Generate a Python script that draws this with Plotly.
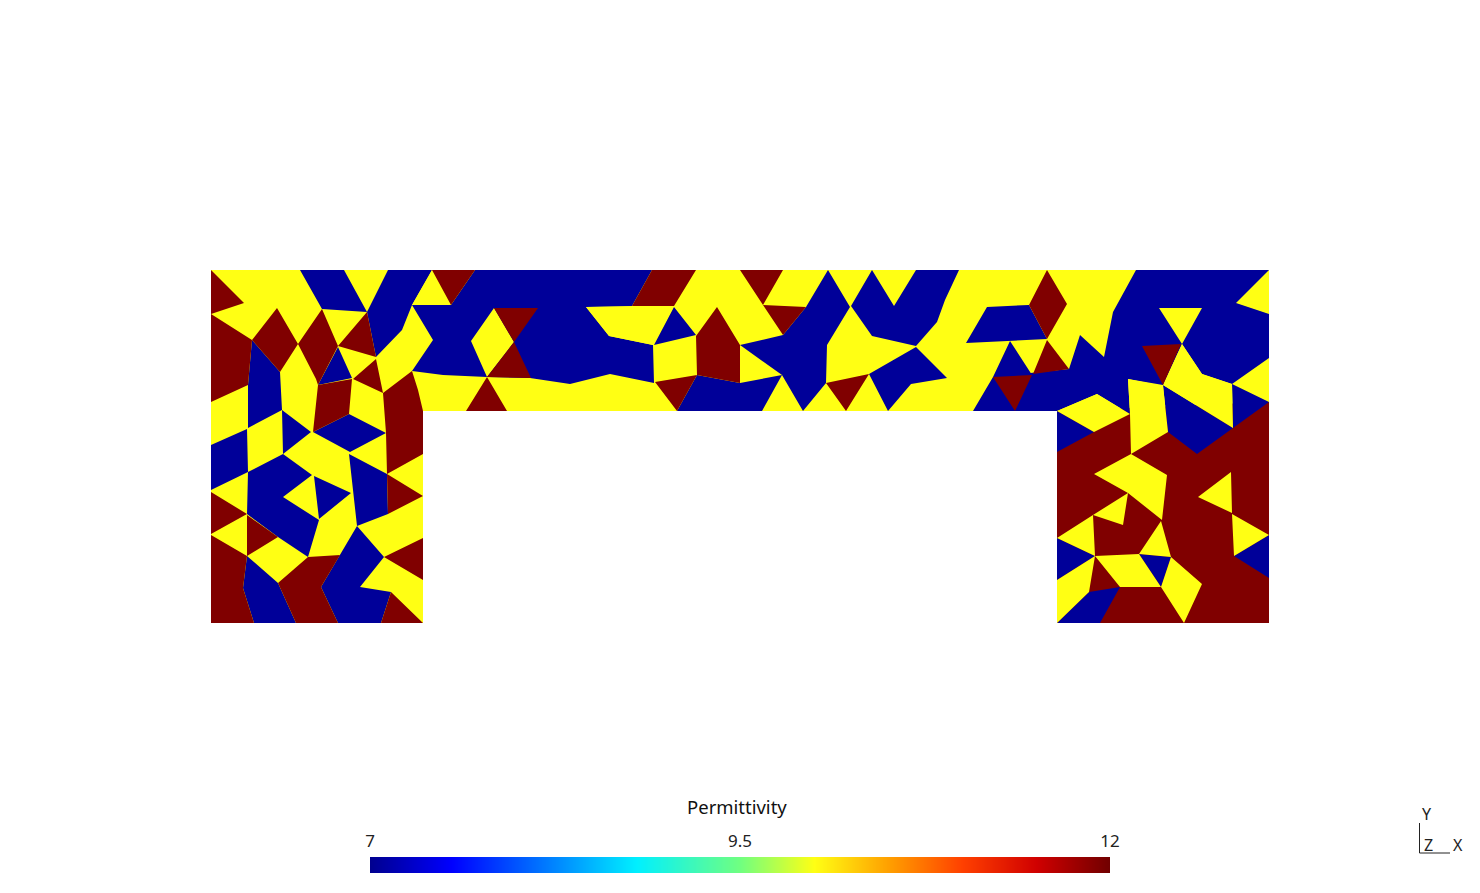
import plotly.graph_objects as go

# mesh cells, vertices are (x, y) in image units, y down
domain_outline = [[(211, 270), (1269, 270), (1269, 623), (1057, 623), (1057, 411),
                   (423, 411), (423, 623), (211, 623)]]

red_leg = [[(1057, 411), (1269, 402), (1269, 623), (1057, 623)]]

blue_cells = [
    [(300, 270), (344, 270), (367, 312), (322, 309)],
    [(388, 270), (432, 270), (412, 305), (402, 330), (376, 357), (367, 312)],
    [(252, 340), (280, 372), (282, 410), (248, 428), (248, 385)],
    [(338, 347), (352, 378), (318, 385)],
    [(313, 432), (349, 414), (386, 433), (350, 452)],
    [(282, 410), (311, 432), (283, 454)],
    [(211, 445), (247, 429), (248, 472), (211, 490)],
    [(247, 556), (278, 583), (296, 623), (254, 623), (243, 588)],
    [(357, 526), (384, 557), (360, 587), (391, 592), (381, 623), (338, 623), (321, 587)],
    [(349, 454), (387, 474), (388, 514), (357, 526)],
    [(248, 472), (283, 454), (312, 475), (283, 497), (319, 520), (308, 557), (278, 537), (247, 514)],
    [(314, 476), (351, 493), (319, 519)],
    [(412, 305), (451, 305), (475, 270), (652, 270), (632, 306), (586, 307), (609, 336), (653, 345),
     (654, 383), (610, 374), (570, 384), (530, 378), (487, 377), (443, 375), (412, 371), (433, 340)],
    [(674, 307), (696, 335), (654, 345)],
    [(697, 375), (740, 383), (782, 375), (762, 411), (677, 411)],
    [(828, 270), (850, 307), (827, 345), (826, 383), (803, 411), (782, 375), (740, 345), (783, 335), (806, 307)],
    [(872, 270), (894, 306), (916, 270), (959, 270), (945, 300), (937, 322), (916, 346), (872, 336), (851, 306)],
    [(916, 347), (947, 378), (911, 384), (888, 411), (869, 374)],
    [(987, 307), (1029, 305), (1047, 339), (966, 343)],
    [(1010, 341), (1032, 375), (993, 377)],
    [(973, 411), (993, 377), (1069, 369), (1080, 335), (1104, 357), (1113, 312), (1136, 270), (1269, 270),
     (1236, 303), (1269, 314), (1269, 358), (1232, 384), (1202, 374), (1182, 344), (1163, 385), (1128, 379),
     (1130, 414), (1097, 394), (1057, 411)],
    [(1057, 411), (1094, 432), (1057, 452)],
    [(1163, 385), (1233, 428), (1197, 454), (1168, 432)],
    [(1232, 384), (1269, 402), (1233, 428)],
    [(1269, 535), (1269, 578), (1234, 556)],
    [(1057, 538), (1095, 556), (1057, 580)],
    [(1089, 592), (1120, 587), (1100, 623), (1057, 623)],
    [(1139, 554), (1171, 557), (1161, 587)],
]

yellow_cells = [
    [(432, 270), (451, 305), (412, 305)],
    [(586, 307), (674, 306), (653, 345), (609, 336)],
    [(494, 308), (514, 342), (487, 377), (471, 341)],
    [(1159, 308), (1202, 308), (1182, 344)],
    [(1182, 344), (1202, 374), (1232, 384), (1233, 428), (1163, 385)],
    [(1057, 411), (1097, 394), (1130, 414), (1094, 432)],
    [(1128, 379), (1163, 386), (1168, 432), (1131, 454), (1130, 414)],
    [(1131, 454), (1167, 475), (1162, 520), (1128, 493), (1094, 474)],
    [(1231, 472), (1232, 513), (1198, 497)],
    [(1232, 514), (1269, 535), (1234, 556)],
    [(1128, 493), (1123, 525), (1093, 515)],
    [(1093, 515), (1095, 556), (1057, 538)],
    [(1095, 556), (1089, 592), (1057, 623), (1057, 580)],
    [(1095, 556), (1139, 554), (1161, 587), (1120, 587)],
    [(1161, 521), (1171, 557), (1139, 554)],
    [(1171, 557), (1202, 584), (1184, 623), (1161, 587)],
]

red_cells = [
    [(211, 270), (244, 303), (211, 314)],
    [(367, 312), (376, 357), (338, 346)],
    [(211, 314), (252, 340), (248, 385), (211, 402)],
    [(277, 308), (298, 344), (280, 372), (252, 340)],
    [(322, 309), (338, 346), (318, 385), (316, 379), (298, 344)],
    [(376, 359), (383, 393), (353, 379)],
    [(318, 385), (352, 379), (349, 414), (313, 432)],
    [(383, 393), (412, 371), (418, 390), (423, 411), (423, 454), (387, 474), (386, 433)],
    [(211, 492), (247, 514), (211, 534)],
    [(247, 515), (278, 537), (247, 556)],
    [(211, 535), (247, 556), (243, 588), (254, 623), (211, 623)],
    [(278, 583), (308, 557), (340, 555), (321, 587), (338, 623), (296, 623)],
    [(391, 592), (423, 623), (381, 623)],
    [(384, 557), (423, 538), (423, 580)],
    [(387, 474), (423, 496), (388, 514)],
    [(432, 270), (475, 270), (451, 305)],
    [(494, 308), (538, 308), (514, 342)],
    [(514, 342), (531, 378), (487, 377)],
    [(487, 377), (507, 411), (466, 411)],
    [(652, 270), (696, 270), (674, 306), (632, 306)],
    [(717, 307), (740, 345), (740, 383), (697, 375), (696, 336)],
    [(740, 270), (783, 270), (763, 305)],
    [(763, 305), (806, 307), (783, 335)],
    [(655, 382), (697, 375), (677, 411)],
    [(826, 383), (869, 374), (846, 411)],
    [(1047, 270), (1067, 304), (1047, 339), (1029, 305)],
    [(1047, 340), (1069, 369), (1033, 374)],
    [(993, 377), (1032, 375), (1015, 411)],
    [(1142, 346), (1181, 344), (1163, 385)],
]

cbar_values = [7, 12]
cbar_ticks = [7, 9.5, 12]
cbar_labels = ["7", "9.5", "12"]
jet = [[0, "#00008f"], [0.11, "#0000ff"], [0.36, "#00f0ff"], [0.5, "#70ff80"],
       [0.6, "#ffff14"], [0.7, "#ffa000"], [0.8, "#ff4000"], [0.9, "#d00000"], [1, "#700000"]]

BLUE = "#000099"
YELLOW = "#ffff14"
RED = "#800000"
FONT = "Noto Sans"

# the page body has an 8px margin, so the plot area is inset by that much
BODY = 8
W = 1480 - 2 * BODY
H = 893 - 2 * BODY


def cells_trace(cells, color):
    xs, ys = [], []
    for cell in cells:
        xs += [p[0] for p in cell] + [cell[0][0], None]
        ys += [p[1] for p in cell] + [cell[0][1], None]
    return go.Scatter(x=xs, y=ys, mode="lines", fill="toself", fillcolor=color,
                      line=dict(width=0), hoverinfo="skip", showlegend=False)


fig = go.Figure()
for cells, color in [(domain_outline, YELLOW), (red_leg, RED), (blue_cells, BLUE),
                     (yellow_cells, YELLOW), (red_cells, RED)]:
    fig.add_trace(cells_trace(cells, color))

fig.add_trace(go.Heatmap(x=cbar_values, y=[0, 1], z=[cbar_values, cbar_values], zsmooth="best",
                         colorscale=jet, zmin=7, zmax=12, showscale=False,
                         xaxis="x2", yaxis="y2", hoverinfo="skip"))

fig.update_layout(
    width=W, height=H,
    margin=dict(l=0, r=0, t=0, b=0),
    paper_bgcolor="white", plot_bgcolor="white",
    xaxis=dict(range=[BODY, BODY + W], visible=False, domain=[0, 1], automargin=False),
    yaxis=dict(range=[BODY + H, BODY], visible=False, domain=[0, 1], automargin=False),
    xaxis2=dict(range=[7, 12], domain=[(370 - BODY) / W, (1110 - BODY) / W], anchor="y2", side="top",
                tickvals=cbar_ticks, ticktext=cbar_labels, ticks="outside", ticklen=2, automargin=False,
                tickcolor="rgba(0,0,0,0)", showgrid=False, zeroline=False, showline=False,
                tickfont=dict(family=FONT, size=17, color="#222222")),
    yaxis2=dict(range=[0, 1], domain=[(BODY + H - 873) / H, (BODY + H - 857) / H], anchor="x2",
                visible=False, automargin=False),
    annotations=[
        dict(x=737, y=806, text="Permittivity", showarrow=False, xref="x", yref="y",
             font=dict(family=FONT, size=18.5, color="#111111")),
        dict(x=1427, y=814, text="Y", showarrow=False, xref="x", yref="y",
             font=dict(family=FONT, size=16, color="#222222")),
        dict(x=1428, y=845, text="Z", showarrow=False, xref="x", yref="y",
             font=dict(family=FONT, size=16, color="#222222")),
        dict(x=1458, y=845, text="X", showarrow=False, xref="x", yref="y",
             font=dict(family=FONT, size=16, color="#222222")),
    ],
    shapes=[
        dict(type="line", x0=1419.5, x1=1419.5, y0=823, y1=853, xref="x", yref="y",
             line=dict(color="#222222", width=1)),
        dict(type="line", x0=1419.5, x1=1450, y0=853, y1=853, xref="x", yref="y",
             line=dict(color="#222222", width=1)),
    ],
)

fig.write_html("out.html")
